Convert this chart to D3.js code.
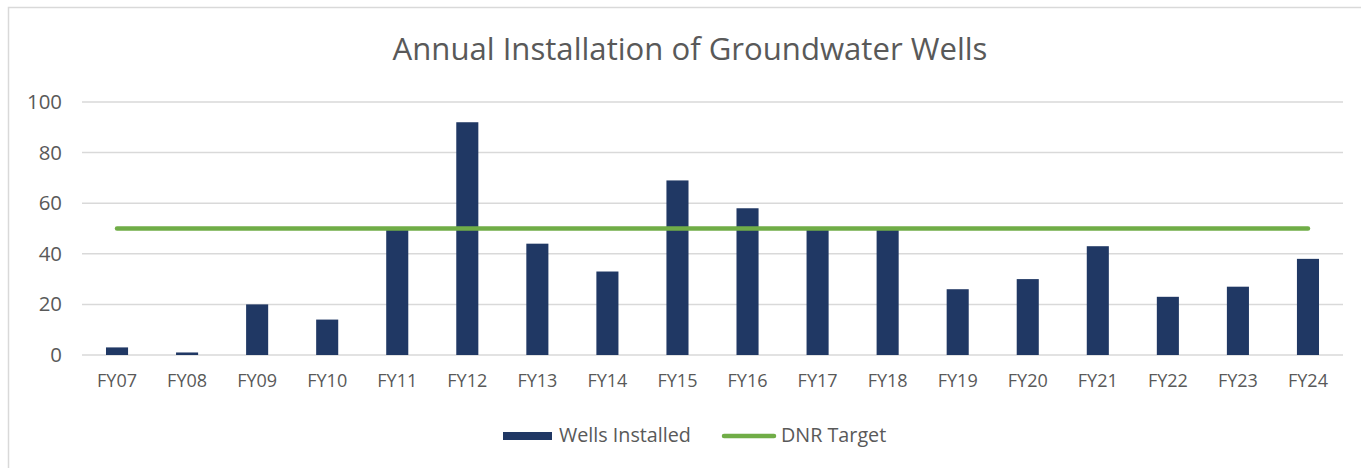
<!DOCTYPE html>
<html>
<head>
<meta charset="utf-8">
<script src="https://cdn.jsdelivr.net/npm/d3@7"></script>
<style>
  html, body { margin: 0; padding: 0; background: #fff; }
  svg { display: block; font-family: "Open Sans", Lato, sans-serif; }
</style>
</head>
<body>
<svg id="chart" width="1361" height="468"></svg>
<script>
const title = "Annual Installation of Groundwater Wells";
const categories = ["FY07","FY08","FY09","FY10","FY11","FY12","FY13","FY14","FY15","FY16","FY17","FY18","FY19","FY20","FY21","FY22","FY23","FY24"];
const wellsInstalled = [3, 1, 20, 14, 50, 92, 44, 33, 69, 58, 50, 50, 26, 30, 43, 23, 27, 38];
const dnrTarget = [50, 50, 50, 50, 50, 50, 50, 50, 50, 50, 50, 50, 50, 50, 50, 50, 50, 50];
const yTicks = [0, 20, 40, 60, 80, 100];
const seriesNames = ["Wells Installed", "DNR Target"];

const W = 1361, H = 468;
const margin = { left: 82, right: 1343, top: 102, bottom: 355 };
const textColor = "#595959";
const barColor = "#203864";
const lineColor = "#70AD47";
const gridColor = "#d9d9d9";
const FONT = "'Open Sans', Lato, sans-serif";

const svg = d3.select("#chart");

// fit a text element's font size so its rendered width matches a target width
function fitWidth(sel, target, base) {
  sel.attr("font-size", base);
  const w = sel.node().getComputedTextLength();
  const s = base * target / w;
  sel.attr("font-size", s.toFixed(2));
  return s;
}

// outer chart border
svg.append("rect")
  .attr("x", 8.5).attr("y", 7.5)
  .attr("width", W).attr("height", H)
  .attr("fill", "#fff")
  .attr("stroke", "#d9d9d9").attr("stroke-width", 1.5);

const x = d3.scaleBand().domain(categories).range([margin.left, margin.right]).paddingInner(0.685).paddingOuter(0.3425);
const y = d3.scaleLinear().domain([0, 100]).range([margin.bottom, margin.top]);

// gridlines
svg.append("g")
  .selectAll("line").data(yTicks).join("line")
  .attr("x1", margin.left).attr("x2", margin.right)
  .attr("y1", d => y(d)).attr("y2", d => y(d))
  .attr("stroke", gridColor).attr("stroke-width", 1.5);

// y axis labels
const yAxis = d3.axisLeft(y).tickValues(yTicks).tickSize(0).tickPadding(0);
const gy = svg.append("g").attr("transform", `translate(62,0)`).call(yAxis);
gy.select(".domain").remove();
const yt = gy.selectAll("text").attr("fill", textColor).attr("font-family", FONT);
const ySize = fitWidth(d3.select(yt.nodes()[yt.size() - 1]), 35, 17);
yt.attr("font-size", ySize.toFixed(2));

// bars
svg.append("g")
  .selectAll("rect").data(wellsInstalled).join("rect")
  .attr("x", (d, i) => x(categories[i]))
  .attr("width", x.bandwidth())
  .attr("y", d => y(d))
  .attr("height", d => y(0) - y(d))
  .attr("fill", barColor);

// x axis labels
const xAxis = d3.axisBottom(x).tickSize(0).tickPadding(0);
const gx = svg.append("g").attr("transform", `translate(0,${margin.bottom + 19})`).call(xAxis);
gx.select(".domain").remove();
const xt = gx.selectAll("text").attr("fill", textColor).attr("font-family", FONT);
const xSize = fitWidth(d3.select(xt.nodes()[0]), 40, 16);
xt.attr("font-size", xSize.toFixed(2));

// target line
const line = d3.line()
  .x((d, i) => x(categories[i]) + x.bandwidth() / 2)
  .y(d => y(d));
svg.append("path")
  .datum(dnrTarget)
  .attr("d", line)
  .attr("fill", "none")
  .attr("stroke", lineColor)
  .attr("stroke-width", 4.5)
  .attr("stroke-linecap", "round");

// title
const tt = svg.append("text")
  .attr("x", 690).attr("y", 60)
  .attr("text-anchor", "middle")
  .attr("fill", textColor)
  .text(title);
fitWidth(tt, 595, 26);

// legend
const lg = svg.append("g");
lg.append("rect").attr("x", 503).attr("y", 432).attr("width", 49).attr("height", 8).attr("fill", barColor);
const l1 = lg.append("text").attr("x", 559).attr("y", 442).attr("fill", textColor).text(seriesNames[0]);
const lSize = fitWidth(l1, 132, 17);
lg.append("line").attr("x1", 724).attr("x2", 774).attr("y1", 436).attr("y2", 436)
  .attr("stroke", lineColor).attr("stroke-width", 4.5).attr("stroke-linecap", "round");
lg.append("text").attr("x", 781).attr("y", 442).attr("fill", textColor).attr("font-size", lSize.toFixed(2)).text(seriesNames[1]);
</script>
</body>
</html>
